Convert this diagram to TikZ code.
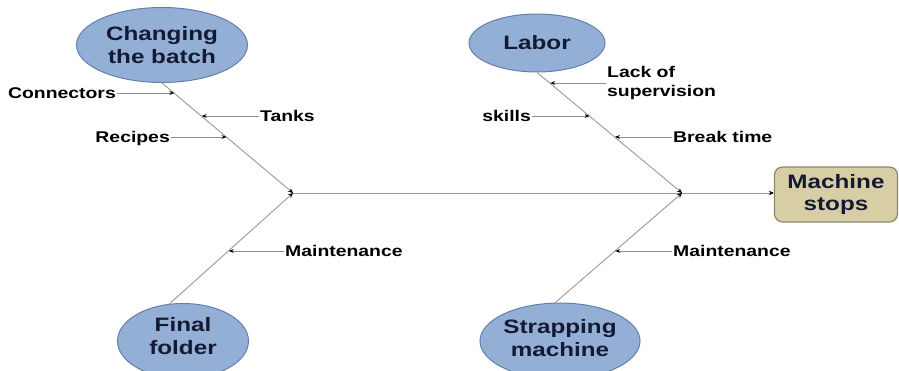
\documentclass[tikz,border=0pt]{standalone}
\usepackage{fontspec}
\usepackage{tikz}
\usetikzlibrary{arrows.meta, positioning, shapes.geometric}

\newfontfamily\fishfont[FakeStretch=1.25]{Liberation Sans}
\definecolor{headblue}{RGB}{148,175,214}
\definecolor{headedge}{RGB}{100,128,170}
\definecolor{effectfill}{RGB}{216,206,166}
\definecolor{effectedge}{RGB}{140,135,110}
\definecolor{headtext}{RGB}{20,26,51}

\tikzset{
    head/.style={ellipse, draw=headedge, line width=1pt, fill=headblue, inner sep=0pt,
        align=center, text=headtext, font=\fishfont\bfseries\fontsize{19.4}{23}\selectfont},
    effect/.style={rectangle, rounded corners=8pt, draw=effectedge, line width=1.2pt,
        fill=effectfill, minimum width=123pt, minimum height=55pt, inner sep=0pt,
        align=center, text=headtext, font=\fishfont\bfseries\fontsize{19.4}{22}\selectfont},
    cause/.style={inner sep=1pt, text=black, text height=11pt, text depth=0pt,
        font=\fishfont\bfseries\fontsize{15.5}{19}\selectfont},
    causes/.style={inner sep=1pt, text=black, align=left,
        font=\fishfont\bfseries\fontsize{15.5}{19.5}\selectfont},
    bone/.style={draw=black!40, line width=0.9pt, -{Stealth[black, length=5pt, width=4.5pt]}},
    twig/.style={draw=black!45, line width=0.8pt, -{Stealth[black, length=5pt, width=3.8pt]}}
}

\begin{document}
\begin{tikzpicture}[x=1pt, y=-1pt]

    \useasboundingbox (0,0) rectangle (899,371);

    % heads of the fish
    \node[head, minimum width=171pt, minimum height=75pt] (batch) at (162,45) {Changing\\the batch};
    \node[head, minimum width=136pt, minimum height=58pt] (labor) at (537,43) {Labor};
    \node[head, minimum width=131pt, minimum height=75pt, text depth=11pt] (folder) at (183,341) {Final\\folder};
    \node[head, minimum width=160pt, minimum height=76pt, text depth=7pt] (strap) at (560,341) {Strapping\\machine};

    \node[effect] (stops) at (836,194.5) {Machine\\stops};

    \coordinate (j1) at (293,193);
    \coordinate (j2) at (682,193);

    % spine and bones
    \draw[bone] (j1) -- (j1 -| stops.west);
    \draw[bone] (batch.south) -- (j1);
    \draw[bone] (folder.110) -- (j1);
    \draw[bone] (labor.south) -- (j2);
    \draw[bone] (strap.97) -- (j2);

    % points on the bones
    \coordinate (pConn) at (174.4,93);
    \coordinate (pTank) at (201.7,116);
    \coordinate (pReci) at (226.6,137);
    \coordinate (pLack) at (550.2,83);
    \coordinate (pSkil) at (589.7,116);
    \coordinate (pBrea) at (614.9,137);
    \coordinate (pMnt1) at (228.7,251);
    \coordinate (pMnt2) at (615.2,251);

    % causes
    \node[cause, anchor=east] (conn) at (117,93) {Connectors};
    \node[cause, anchor=west] (tank) at (259,116) {Tanks};
    \node[cause, anchor=east] (reci) at (171,137) {Recipes};
    \node[causes, anchor=west] (lack) at (606,83) {Lack of\\supervision};
    \node[cause, anchor=east] (skil) at (532,116) {skills};
    \node[cause, anchor=west] (brea) at (672,137) {Break time};
    \node[cause, anchor=west] (mnt1) at (284,251) {Maintenance};
    \node[cause, anchor=west] (mnt2) at (672,251) {Maintenance};

    \draw[twig] (conn.east) -- (pConn);
    \draw[twig] (tank.west) -- (pTank);
    \draw[twig] (reci.east) -- (pReci);
    \draw[twig] (lack.west) -- (pLack);
    \draw[twig] (skil.east) -- (pSkil);
    \draw[twig] (brea.west) -- (pBrea);
    \draw[twig] (mnt1.west) -- (pMnt1);
    \draw[twig] (mnt2.west) -- (pMnt2);

\end{tikzpicture}
\end{document}
